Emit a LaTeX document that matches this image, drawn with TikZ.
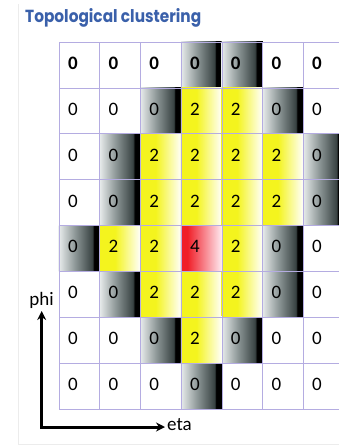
\documentclass[tikz,border=0pt]{standalone}
\usepackage{fontspec}
\usepackage{graphicx}
\setmainfont{Carlito}
\newfontfamily\titlefont{Poppins}
\usetikzlibrary{arrows.meta}
\pgfdeclarelayer{bg}
\pgfsetlayers{bg,main}
\definecolor{gridc}{RGB}{180,172,225}
\definecolor{titleblue}{RGB}{58,96,170}
\definecolor{glight}{RGB}{232,236,236}
\definecolor{gmid}{RGB}{140,150,150}
\definecolor{gdark}{RGB}{55,65,65}
\definecolor{yel}{RGB}{244,244,30}
\definecolor{redc}{RGB}{240,30,40}
\definecolor{pinkw}{RGB}{255,238,244}
\definecolor{framec}{RGB}{236,236,236}
\pgfdeclarehorizontalshading{grayshade}{100bp}{color(0bp)=(glight); color(25bp)=(glight); color(45bp)=(gmid); color(66bp)=(gdark); color(67.5bp)=(black); color(100bp)=(black)}
\pgfdeclarehorizontalshading{yelshade}{100bp}{color(0bp)=(yel); color(25bp)=(yel); color(44bp)=(yel); color(75bp)=(white); color(100bp)=(white)}
\pgfdeclarehorizontalshading{redshade}{100bp}{color(0bp)=(redc); color(25bp)=(redc); color(33bp)=(redc); color(75bp)=(pinkw); color(100bp)=(pinkw)}
\tikzset{
  cellbox/.style={draw=gridc, line width=0.6pt, rectangle, minimum width=40.7pt, minimum height=45.875pt,
    text width=22.7pt, inner xsep=9pt, inner ysep=0pt, align=left, text height=13pt, text depth=4pt,
    font=\fontsize{19}{22}\selectfont},
  axisline/.style={line width=3pt, line join=miter, {Stealth[length=9pt,width=9pt]}-{Stealth[length=9pt,width=9pt]}},
  axislabel/.style={inner sep=0pt, font=\fontsize{19}{22}\selectfont},
  framel/.style={draw=framec, line width=0.8pt}
}
\begin{document}
\begin{tikzpicture}[x=1pt,y=-1pt]
\useasboundingbox (0,0) rectangle (339,446);
\clip (0,0) rectangle (339,446);
% faint frame
\coordinate (ftop) at (18,4);
\coordinate (fcorner) at (18,444);
\coordinate (fright) at (339,444);
\draw[framel] (ftop) -- (fcorner) -- (fright);
% title
\node[anchor=base west, inner sep=0pt, text=titleblue] (title) at (25,23)
  {\resizebox{176pt}{14pt}{\titlefont\bfseries Topological clustering}};
% cells
\foreach \row [count=\r from 0] in {{0,0,0,0,0,0,0},{0,0,0,2,2,0,0},{0,0,2,2,2,2,0},{0,0,2,2,2,2,0},{0,2,2,4,2,0,0},{0,0,2,2,2,0,0},{0,0,0,2,0,0,0},{0,0,0,0,0,0,0}}{
  \foreach \v [count=\c from 0] in \row {
    \node[cellbox] (c-\r-\c) at ({79.35+40.7*\c},{64.94+45.875*\r}) {\ifnum\r=0 \bfseries\fi\v};
  }
}
\begin{pgfonlayer}{bg}
\foreach \r/\c in {0/3,0/4,1/2,1/5,2/1,2/6,3/1,3/6,4/0,4/5,5/1,5/5,6/2,6/4,7/3}
  \shade[shading=grayshade] (c-\r-\c.south west) rectangle (c-\r-\c.north east);
\foreach \r/\c in {1/3,1/4,2/2,2/3,2/4,2/5,3/2,3/3,3/4,3/5,4/1,4/2,4/4,5/2,5/3,5/4,6/3}
  \shade[shading=yelshade] (c-\r-\c.south west) rectangle (c-\r-\c.north east);
\shade[shading=redshade] (c-4-3.south west) rectangle (c-4-3.north east);
\end{pgfonlayer}
% axes
\coordinate (origin) at (41.7,427);
\coordinate (ytip) at (41.7,311);
\coordinate (xtip) at (165,427);
\draw[axisline] (ytip) -- (origin) -- (xtip);
\node[axislabel] (phi) at (41.5,300) {phi};
\node[axislabel, anchor=west] (eta) at (167,425) {eta};
\end{tikzpicture}
\end{document}
